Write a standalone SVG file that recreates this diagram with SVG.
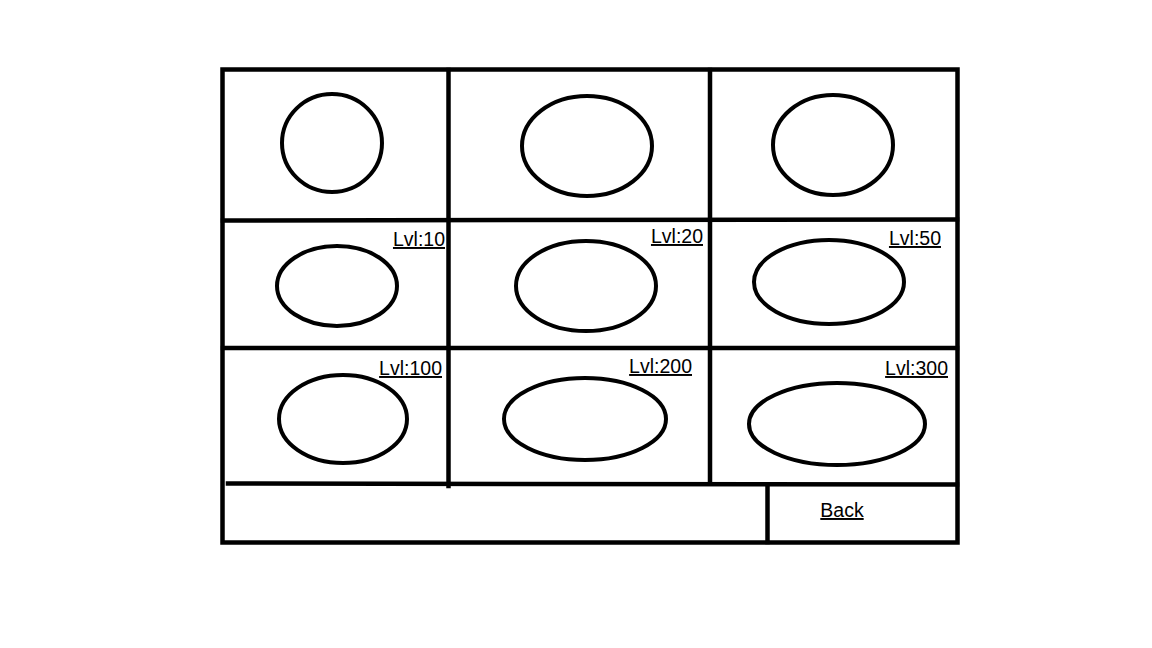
<svg xmlns="http://www.w3.org/2000/svg" width="1152" height="648" viewBox="0 0 1152 648">
<style>
.ln{stroke:#000;stroke-width:4.5;fill:none;stroke-linecap:square}
.el{stroke:#000;stroke-width:4;fill:none}
.lb{font-family:"Liberation Sans",Arial,sans-serif;font-size:19.5px;fill:#000;text-decoration:underline}
</style>
<rect width="1152" height="648" fill="#fff"/>
<g id="frame">
<rect class="ln" x="222.5" y="69.5" width="735" height="473"/>
<line class="ln" x1="448.5" y1="70" x2="448.5" y2="486"/>
<line class="ln" x1="710" y1="70" x2="710" y2="482"/>
<line class="ln" x1="223" y1="220.5" x2="957" y2="219.5"/>
<line class="ln" x1="223" y1="348" x2="957" y2="348"/>
<line class="ln" x1="228" y1="483.5" x2="957" y2="484.5"/>
<line class="ln" x1="767.5" y1="485" x2="767.5" y2="542"/>
</g>
<g id="cell-1-1"><ellipse class="el" cx="332" cy="143" rx="50" ry="49"/></g>
<g id="cell-1-2"><ellipse class="el" cx="587" cy="146" rx="65" ry="50"/></g>
<g id="cell-1-3"><ellipse class="el" cx="833" cy="145" rx="60" ry="50"/></g>
<g id="cell-2-1"><ellipse class="el" cx="337" cy="286" rx="60" ry="40"/><text class="lb" x="445" y="246" text-anchor="end">Lvl:10</text></g>
<g id="cell-2-2"><ellipse class="el" cx="586" cy="286" rx="70" ry="45"/><text class="lb" x="703" y="243" text-anchor="end">Lvl:20</text></g>
<g id="cell-2-3"><ellipse class="el" cx="829" cy="282" rx="75" ry="42"/><text class="lb" x="941" y="245" text-anchor="end">Lvl:50</text></g>
<g id="cell-3-1"><ellipse class="el" cx="343" cy="419" rx="64" ry="44"/><text class="lb" x="442" y="375" text-anchor="end">Lvl:100</text></g>
<g id="cell-3-2"><ellipse class="el" cx="585" cy="419" rx="81" ry="41"/><text class="lb" x="692" y="373" text-anchor="end">Lvl:200</text></g>
<g id="cell-3-3"><ellipse class="el" cx="837" cy="424" rx="88" ry="41"/><text class="lb" x="948" y="375" text-anchor="end">Lvl:300</text></g>
<g id="back"><text class="lb" x="842" y="517" text-anchor="middle">Back</text></g>
<g id="connectors"/>
</svg>
